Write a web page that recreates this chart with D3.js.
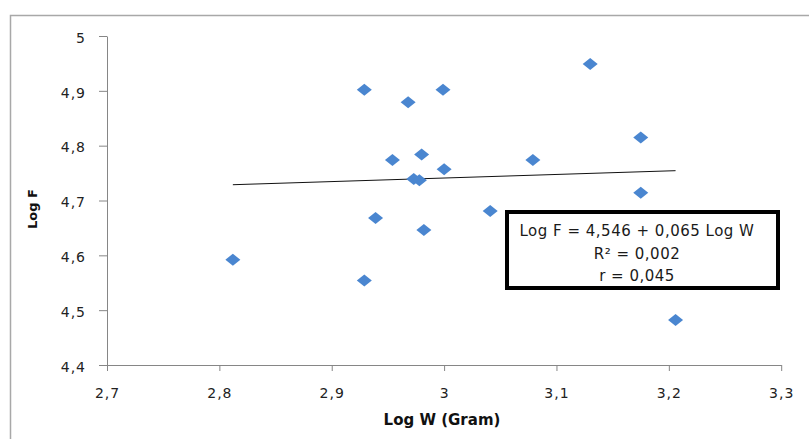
<!DOCTYPE html>
<html>
<head>
<meta charset="utf-8">
<script src="https://cdn.jsdelivr.net/npm/d3@7"></script>
<style>
  body { margin: 0; background: #fff; }
  svg { display: block; }
  .tick text { font-family: "DejaVu Sans", sans-serif; font-size: 14px; fill: #222; }
  .axis path, .axis line { stroke: #868686; }
  .title { font-family: "DejaVu Sans", sans-serif; font-weight: bold; fill: #111; }
  .note { font-family: "DejaVu Sans", sans-serif; font-size: 15px; fill: #1a1a1a; }
</style>
</head>
<body>
<svg width="809" height="439"></svg>
<script>
// Log W (gram) and Log F for each fish
var logW = [2.812, 2.929, 2.929, 2.939, 2.954, 2.968, 2.973, 2.978, 2.980, 2.982,
            2.999, 3.000, 3.041, 3.079, 3.130, 3.175, 3.175, 3.206];
var logF = [4.592, 4.902, 4.554, 4.668, 4.774, 4.879, 4.739, 4.737, 4.784, 4.646,
            4.902, 4.757, 4.681, 4.774, 4.949, 4.815, 4.714, 4.482];

var xTicks = [2.7, 2.8, 2.9, 3.0, 3.1, 3.2, 3.3];
var yTicks = [4.4, 4.5, 4.6, 4.7, 4.8, 4.9, 5.0];

// regression: Log F = a + b Log W
var fitA = 4.546, fitB = 0.065;
var noteLines = ["Log F = 4,546 + 0,065 Log W", "R\u00b2 = 0,002", "r = 0,045"];

var svg = d3.select("svg");

// chart frame (cut off at right and bottom)
svg.append("rect")
  .attr("x", 10.5).attr("y", 15.5)
  .attr("width", 830).attr("height", 460)
  .attr("fill", "none")
  .attr("stroke", "#a8a8a8")
  .attr("stroke-width", 1.5);

var xs = d3.scaleLinear().domain([2.7, 3.3]).range([107, 781.2]);
var ys = d3.scaleLinear().domain([4.4, 5.0]).range([365, 36]);

function comma(v) { return String(+v.toFixed(1)).replace(".", ","); }

var xa = d3.axisBottom(xs).tickValues(xTicks).tickFormat(comma)
  .tickSizeInner(6).tickSizeOuter(0).tickPadding(17);
var ya = d3.axisLeft(ys).tickValues(yTicks).tickFormat(comma)
  .tickSizeInner(8).tickSizeOuter(0).tickPadding(13);

svg.append("g")
  .attr("class", "axis")
  .attr("transform", "translate(0,365)")
  .call(xa)
  .selectAll("text").attr("letter-spacing", 1);

svg.append("g")
  .attr("class", "axis")
  .attr("transform", "translate(107,0)")
  .call(ya)
  .selectAll("text").attr("letter-spacing", 1).attr("dy", "0.45em");

// axis titles
svg.append("text")
  .attr("class", "title")
  .attr("x", 442).attr("y", 425)
  .attr("text-anchor", "middle")
  .attr("font-size", 15)
  .text("Log W (Gram)");

svg.append("text")
  .attr("class", "title")
  .attr("transform", "translate(37,209) rotate(-90)")
  .attr("text-anchor", "middle")
  .attr("font-size", 13)
  .text("Log F");

// trend line over the range of the data
var xr = d3.extent(logW);
svg.append("line")
  .attr("x1", xs(xr[0])).attr("y1", ys(fitA + fitB * xr[0]))
  .attr("x2", xs(xr[1])).attr("y2", ys(fitA + fitB * xr[1]))
  .attr("stroke", "#111")
  .attr("stroke-width", 1);

// diamond markers
var pts = logW.map(function(w, i) { return {w: w, f: logF[i]}; });
svg.append("g").selectAll("path")
  .data(pts)
  .enter()
  .append("path")
  .attr("d", "M0,-6L7.5,0L0,6L-7.5,0Z")
  .attr("transform", function(d) { return "translate(" + xs(d.w) + "," + ys(d.f) + ")"; })
  .attr("fill", "#4a86d0");

// equation box
var box = svg.append("g");
box.append("rect")
  .attr("x", 507).attr("y", 212)
  .attr("width", 271).attr("height", 76)
  .attr("fill", "#fff")
  .attr("stroke", "#000")
  .attr("stroke-width", 4);

box.selectAll("text")
  .data(noteLines)
  .enter()
  .append("text")
  .attr("class", "note")
  .attr("x", 637)
  .attr("y", function(d, i) { return 236 + i * 22.5; })
  .attr("text-anchor", "middle")
  .attr("letter-spacing", 0.5)
  .text(function(d) { return d; });
</script>
</body>
</html>
